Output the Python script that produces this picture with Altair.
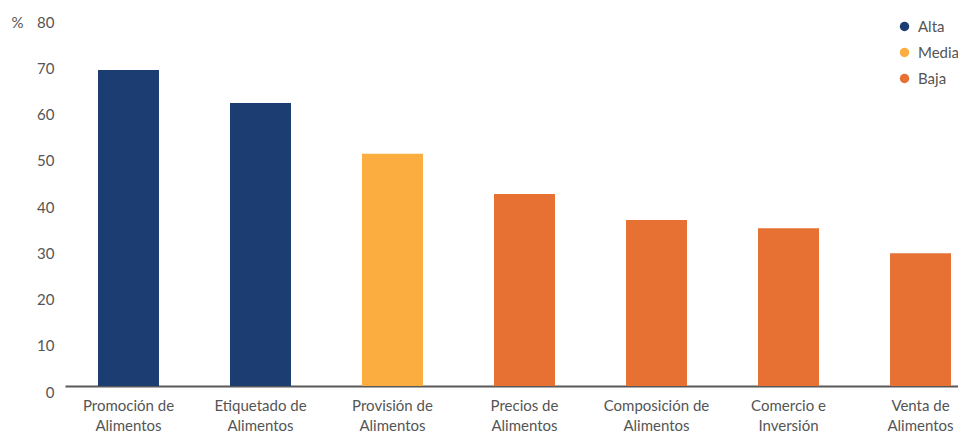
import altair as alt
import pandas as pd

categories = ["Promoción de|Alimentos", "Etiquetado de|Alimentos", "Provisión de|Alimentos",
              "Precios de|Alimentos", "Composición de|Alimentos", "Comercio e|Inversión",
              "Venta de|Alimentos"]
values = [68.3, 61.2, 50.2, 41.5, 35.9, 34.1, 28.7]
levels = ["Alta", "Alta", "Media", "Baja", "Baja", "Baja", "Baja"]
level_order = ["Alta", "Media", "Baja"]
level_colors = ["#1B3D71", "#FBAE3F", "#E77133"]
y_ticks = [0, 10, 20, 30, 40, 50, 60, 70, 80]

df = pd.DataFrame({"cat": categories, "val": values, "nivel": levels})

FONT = "Lato"
GREY = "#555555"
FS = 15

chart = alt.Chart(df).mark_bar().encode(
    x=alt.X("cat:N", sort=categories,
            scale=alt.Scale(range=[0, 919], paddingInner=0.538, paddingOuter=0.25),
            axis=alt.Axis(title=None, labelAngle=0, labelExpr="split(datum.value, '|')",
                          labelLineHeight=20, labelPadding=12, labelFontSize=FS,
                          labelColor=GREY, labelFont=FONT, ticks=False,
                          domainColor="#595959", domainWidth=2)),
    y=alt.Y("val:Q", scale=alt.Scale(domain=[0, 80], nice=False),
            axis=alt.Axis(values=y_ticks, title="%", titleAngle=0, titleX=-48, titleY=6,
                          titleAlign="center", titleBaseline="middle", titleFontSize=FS,
                          titleFontWeight="normal", titleColor=GREY, titleFont=FONT,
                          labelFontSize=FS, labelColor=GREY, labelFont=FONT,
                          labelPadding=11, labelOffset=6, ticks=False, domain=False,
                          grid=False)),
    color=alt.Color("nivel:N", sort=level_order,
                    scale=alt.Scale(domain=level_order, range=level_colors),
                    legend=alt.Legend(title=None, orient="none", legendX=832, legendY=3,
                                      symbolType="circle", symbolSize=90,
                                      labelFontSize=FS, labelColor=GREY, labelFont=FONT,
                                      rowPadding=10, labelOffset=6))
).properties(
    width=885, height=370,
    autosize=alt.AutoSizeParams(type="none"),
    padding={"left": 57, "top": 8, "right": 8, "bottom": 54}
).configure_view(strokeWidth=0)

chart.save("out.html", embed_options={"renderer": "svg", "actions": False})
